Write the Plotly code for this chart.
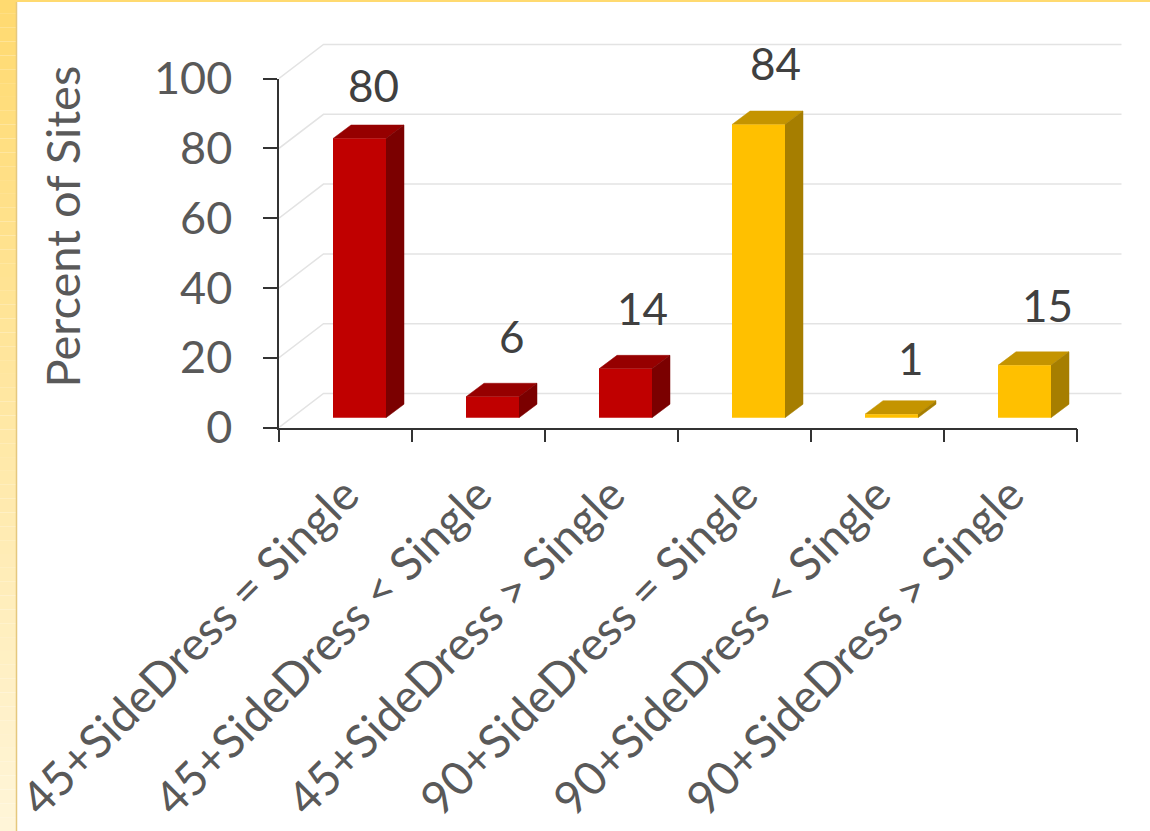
import plotly.graph_objects as go

categories = ["45+SideDress = Single", "45+SideDress < Single", "45+SideDress > Single",
              "90+SideDress = Single", "90+SideDress < Single", "90+SideDress > Single"]
values = [80, 6, 14, 84, 1, 15]
y_ticks = [0, 20, 40, 60, 80, 100]
y_title = "Percent of Sites"

W, H = 1150, 831
X0, X1, Y0, Y100 = 279, 1077, 427.5, 78.5
XB, YB = 1124, 36   # extent of the back-wall drawing area
PX_X = (X1 - X0) / 6
PX_Y = (Y0 - Y100) / 100

RED = ("#C00000", "#960000", "#7B0000")
GOLD = ("#FFC000", "#C49400", "#A67E00")
palette = [RED, RED, RED, GOLD, GOLD, GOLD]

FONT = "Lato, Carlito, Calibri, sans-serif"
bar_left = -12.5 / PX_X
bar_w = 53 / PX_X
bar_base = 9.8 / PX_Y
dep_x = 18 / PX_X
dep_y = 13.5 / PX_Y
wall_x = 44.5 / PX_X
wall_y = 34 / PX_Y
label_dx = [27.5, 33.5, 30.5, 30.5, 33.5, 36.5]
label_dy = [40, 47, 47, 48, 43, 47]

fig = go.Figure()

GRID = "#E3E3E3"
for t in y_ticks:
    fig.add_trace(go.Scatter(
        x=[-0.5, -0.5 + wall_x, 5.5 + wall_x], y=[t, t + wall_y, t + wall_y],
        mode="lines", line=dict(color=GRID, width=1.5),
        hoverinfo="skip", showlegend=False, xaxis="x", yaxis="y"))

for i, v in enumerate(values):
    l = i + bar_left
    r = l + bar_w
    top = v + bar_base
    front, upper, side = palette[i]
    fig.add_trace(go.Scatter(
        x=[l, r, r + dep_x, l + dep_x, l], y=[top, top, top + dep_y, top + dep_y, top],
        mode="lines", fill="toself", fillcolor=upper, line=dict(color=upper, width=0.5),
        hoverinfo="skip", showlegend=False, xaxis="x", yaxis="y"))
    fig.add_trace(go.Scatter(
        x=[r, r + dep_x, r + dep_x, r, r],
        y=[bar_base, bar_base + dep_y, top + dep_y, top, bar_base],
        mode="lines", fill="toself", fillcolor=side, line=dict(color=side, width=0.5),
        hoverinfo="skip", showlegend=False, xaxis="x", yaxis="y"))

fig.add_trace(go.Bar(
    x=categories, y=values, base=bar_base, width=bar_w, offset=bar_left,
    marker=dict(color=[p[0] for p in palette], line=dict(width=0)),
    showlegend=False, xaxis="x2", yaxis="y2"))

annotations = []
for i, v in enumerate(values):
    annotations.append(dict(
        x=i, y=v + bar_base + dep_y, xref="x", yref="y", text=str(v), showarrow=False,
        xshift=label_dx[i], yshift=label_dy[i], xanchor="center", yanchor="middle",
        font=dict(family=FONT, size=44, color="#404040")))
annotations.append(dict(
    x=61 / W, y=1 - 226.5 / H, xref="paper", yref="paper", text=y_title, textangle=-90,
    showarrow=False, xanchor="center", yanchor="middle",
    font=dict(family=FONT, size=47, color="#595959")))

# Slide decoration: gradient strip on the left, thin band on top
shapes = []
N = 60
for k in range(N):
    f = k / (N - 1)
    c = (255, round(218 + f * (245 - 218)), round(112 + f * (216 - 112)))
    shapes.append(dict(type="rect", xref="paper", yref="paper", layer="below",
                       x0=0, x1=16 / W, y1=1 - k / N, y0=1 - (k + 1) / N,
                       fillcolor=f"rgb{c}", line=dict(width=0)))
shapes.append(dict(type="line", xref="paper", yref="paper", layer="below",
                   x0=16.5 / W, x1=16.5 / W, y0=0, y1=1, line=dict(color="#E5C87E", width=1.5)))
shapes.append(dict(type="rect", xref="paper", yref="paper", layer="below",
                   x0=0, x1=1, y0=1 - 2 / H, y1=1, fillcolor="#FFDA70", line=dict(width=0)))

fig.update_layout(
    width=W, height=H, autosize=False,
    margin=dict(l=0, r=0, t=0, b=0),
    paper_bgcolor="white", plot_bgcolor="rgba(0,0,0,0)",
    showlegend=False, annotations=annotations, shapes=shapes,
    xaxis=dict(domain=[X0 / W, XB / W], range=[-0.5, -0.5 + (XB - X0) / PX_X],
               visible=False, fixedrange=True, anchor="y"),
    yaxis=dict(domain=[1 - Y0 / H, 1 - YB / H], range=[0, (Y0 - YB) / PX_Y],
               visible=False, fixedrange=True, anchor="x"),
    xaxis2=dict(domain=[X0 / W, X1 / W], anchor="y2", side="bottom",
                type="category", categoryorder="array", categoryarray=categories,
                range=[-0.5, 5.5], tickson="boundaries", ticks="outside", ticklen=13,
                tickwidth=1.5, tickcolor="#333333", showline=True, linecolor="#333333",
                linewidth=1.5, showgrid=False, tickangle=-45, automargin=False,
                ticklabelstandoff=20,
                tickfont=dict(family=FONT, size=46.3, color="#595959"), fixedrange=True),
    yaxis2=dict(domain=[1 - Y0 / H, 1 - Y100 / H], range=[0, 100], tickmode="array",
                anchor="x2", tickvals=y_ticks, ticks="outside", ticklen=14, tickwidth=1.5,
                tickcolor="#333333", showline=True, linecolor="#333333", linewidth=1.5,
                showgrid=False, zeroline=False, automargin=False, ticklabelstandoff=22,
                tickfont=dict(family=FONT, size=45, color="#595959"), fixedrange=True),
)

fig.write_html("out.html", config={"displayModeBar": False},
               post_script="document.body.style.margin='0';")
